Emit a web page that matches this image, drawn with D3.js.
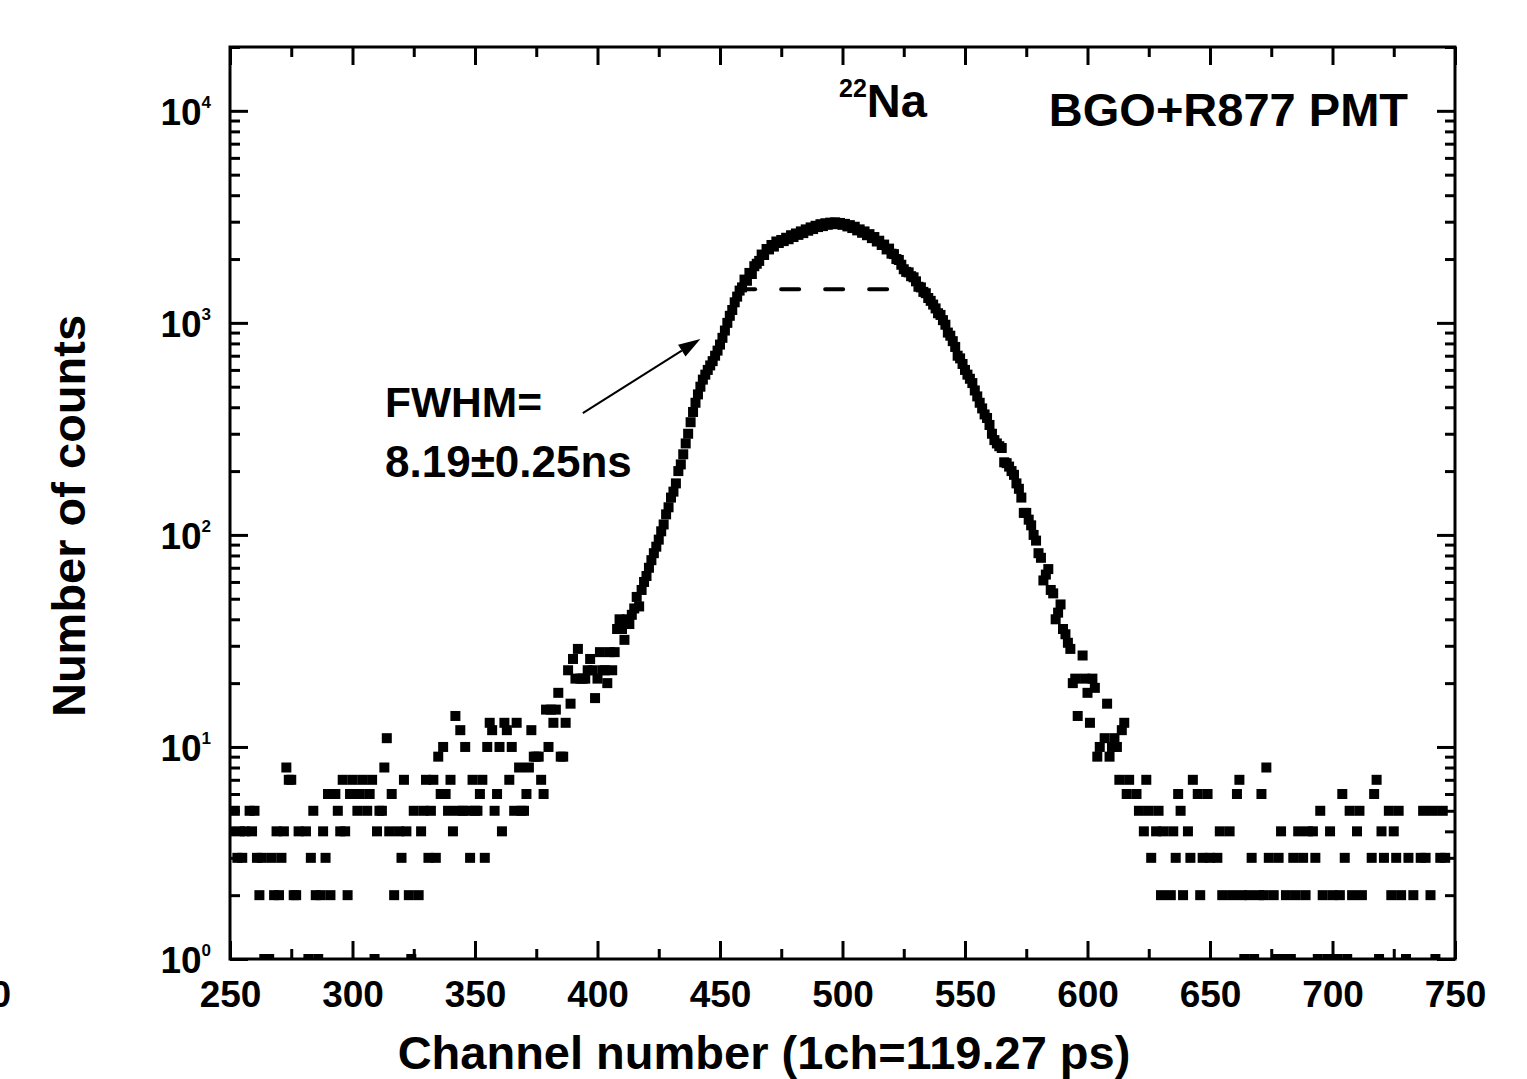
<!DOCTYPE html>
<html>
<head>
<meta charset="utf-8">
<script src="https://cdn.jsdelivr.net/npm/d3@7"></script>
<style>
  body { margin: 0; background: #fff; }
  svg text { font-family: "Liberation Sans", Arial, sans-serif; font-weight: bold; fill: #000; }
</style>
</head>
<body>
<svg id="chart" width="1527" height="1079"></svg>
<script>
// counts per channel (0 = no point drawn)
const firstChannel = 250;
// channels 250-379
const leftTailCounts = [
  4,0,5,3,4,3,4,0,5,4, 5,3,2,3,1,0,1,3,2,4, 2,3,4,8,7,7,2,2,4,0,
  0,4,1,3,5,2,1,2,4,3, 6,2,0,6,5,4,7,4,2,6, 7,0,5,6,7,0,5,6,7,1,
  4,5,5,8,11,4,6,2,0,4, 3,7,4,2,1,5,0,2,4,5, 7,3,5,7,3,9,6,10,6,5,
  7,4,14,5,12,5,10,5,3,7, 5,5,6,7,3,10,13,12,5,6, 10,4,13,12,7,10,5,13,8,5,
  5,6,8,12,9,9,9,7,6,15
];
// channels 380-617
const peakCounts = [
  10,15,13,15,18,9,9,13,23,16, 26,21,29,21,21,21,23,26,23,17,
  21,28,23,23,20,28,23,28,36,40, 36,32,40,38,42,45,51,46,55,60,
  64,70,76,82,88,95,104,112,125,135, 150,160,175,200,215,240,270,300,340,380,
  420,460,500,540,570,600,630,660,700,740, 790,850,920,1000,1080,1150,1250,1330,1420,1470,
  1600,1580,1720,1700,1850,1900,1960,2100,2090,2230, 2220,2330,2290,2420,2380,2460,2430,2520,2480,2590,
  2540,2640,2600,2700,2650,2760,2720,2820,2770,2870, 2830,2920,2860,2950,2900,2970,2930,2980,2920,2960,
  2900,2930,2850,2890,2800,2840,2730,2760,2660,2700, 2590,2620,2510,2540,2420,2440,2330,2340,2220,2240,
  2120,2110,2000,1980,1880,1790,1740,1730,1660,1640, 1570,1480,1470,1400,1380,1310,1270,1220,1170,1110,
  1090,1030,980,900,870,820,770,700,680,640, 600,570,545,520,480,450,420,395,370,356,
  330,300,280,270,262,257,220,218,210,200, 192,175,165,150,127,127,118,111,100,94,
  82,78,61,65,69,55,53,40,43,47, 36,34,31,29,20,21,14,0,27,21,
  18,13,21,19,9,10,0,11,16,9, 10,11,10,7,12,13,6,7
];
// channels 618-750
const rightTailCounts = [
  0,0,6,5,0,4,7,5,3,0, 4,5,2,4,0,0,2,4,3,6, 5,2,0,4,3,7,0,6,2,3,
  0,6,3,0,0,3,4,2,0,0, 4,2,0,6,7,2,1,0,2,3, 1,0,2,6,2,8,3,0,2,1,
  3,4,1,2,0,1,3,2,4,0, 3,2,4,0,4,3,1,5,2,0, 1,4,2,0,1,2,6,3,1,5,
  2,0,4,5,2,0,0,0,3,6, 7,1,4,3,0,5,2,4,3,5, 2,0,1,3,0,2,0,0,3,5,
  3,0,2,5,1,0,3,5,3,0, 0,0,0
];

const xTicks = [250, 300, 350, 400, 450, 500, 550, 600, 650, 700, 750];
const xMinorTicks = [275, 325, 375, 425, 475, 525, 575, 625, 675, 725];
const yDecades = [1, 10, 100, 1000, 10000];
const yExponents = ["0", "1", "2", "3", "4"];
const halfMaxLevel = 1440;
const halfMaxChannels = [457, 526];
const arrowFrom = [394, 375];
const arrowTo = [442, 840];

const svg = d3.select("#chart");
const plotLeft = 230, plotRight = 1455, plotTop = 47, plotBottom = 959;

const x = d3.scaleLinear().domain([250, 750]).range([plotLeft, plotRight]);
const y = d3.scaleLog().domain([1, 20000]).range([plotBottom, plotTop]);

const counts = leftTailCounts.concat(peakCounts, rightTailCounts);
const points = counts
    .map((c, i) => ({ ch: firstChannel + i, c: c }))
    .filter(d => d.c > 0);

svg.append("defs").append("clipPath")
    .attr("id", "plot-clip")
    .append("rect")
    .attr("x", plotLeft).attr("y", plotTop)
    .attr("width", plotRight - plotLeft).attr("height", plotBottom - plotTop);

// data squares
const sq = 10;
svg.append("g")
    .attr("clip-path", "url(#plot-clip)")
    .selectAll("rect")
    .data(points)
    .join("rect")
    .attr("x", d => x(d.ch) - sq / 2)
    .attr("y", d => y(d.c) - sq / 2)
    .attr("width", sq)
    .attr("height", sq)
    .attr("fill", "#000");

// half maximum dashed line
svg.append("line")
    .attr("x1", x(halfMaxChannels[0]))
    .attr("x2", x(halfMaxChannels[1]))
    .attr("y1", y(halfMaxLevel))
    .attr("y2", y(halfMaxLevel))
    .attr("stroke", "#000")
    .attr("stroke-width", 4)
    .attr("stroke-linecap", "round")
    .attr("stroke-dasharray", "18,26");

// axes (ticks point inward)
function styleAxis(g) {
    g.select(".domain").remove();
    g.selectAll(".tick line").attr("stroke", "#000").attr("stroke-width", 3);
}

svg.append("g")
    .attr("transform", `translate(0,${plotBottom})`)
    .call(d3.axisBottom(x).tickValues(xTicks).tickSizeInner(-18).tickSizeOuter(0).tickPadding(22))
    .call(styleAxis)
    .call(g => g.selectAll(".tick text").attr("font-size", 37).attr("fill", "#000")
        .style("font-family", "'Liberation Sans', Arial, sans-serif").style("font-weight", "bold"));

svg.append("g")
    .attr("transform", `translate(0,${plotBottom})`)
    .call(d3.axisBottom(x).tickValues(xMinorTicks).tickSizeInner(-10).tickSizeOuter(0).tickFormat(""))
    .call(styleAxis);

svg.append("g")
    .attr("transform", `translate(0,${plotTop})`)
    .call(d3.axisTop(x).tickValues(xTicks).tickSizeInner(-18).tickSizeOuter(0).tickFormat(""))
    .call(styleAxis);

svg.append("g")
    .attr("transform", `translate(0,${plotTop})`)
    .call(d3.axisTop(x).tickValues(xMinorTicks).tickSizeInner(-10).tickSizeOuter(0).tickFormat(""))
    .call(styleAxis);

const yMinor = y.ticks().filter(v => !yDecades.includes(v));

svg.append("g")
    .attr("transform", `translate(${plotLeft},0)`)
    .call(d3.axisLeft(y).tickValues(yDecades).tickSizeInner(-18).tickSizeOuter(0).tickFormat(""))
    .call(styleAxis);
svg.append("g")
    .attr("transform", `translate(${plotLeft},0)`)
    .call(d3.axisLeft(y).tickValues(yMinor).tickSizeInner(-10).tickSizeOuter(0).tickFormat(""))
    .call(styleAxis);
svg.append("g")
    .attr("transform", `translate(${plotRight},0)`)
    .call(d3.axisRight(y).tickValues(yDecades).tickSizeInner(-18).tickSizeOuter(0).tickFormat(""))
    .call(styleAxis);
svg.append("g")
    .attr("transform", `translate(${plotRight},0)`)
    .call(d3.axisRight(y).tickValues(yMinor).tickSizeInner(-10).tickSizeOuter(0).tickFormat(""))
    .call(styleAxis);

// y tick labels 10^n
const yLab = svg.append("g").selectAll("text")
    .data(yDecades)
    .join("text")
    .attr("x", 211)
    .attr("y", d => y(d) + 14)
    .attr("text-anchor", "end")
    .attr("font-size", 37);
yLab.append("tspan").text("10");
yLab.append("tspan").attr("font-size", 17).attr("dy", -17).text((d, i) => yExponents[i]);

// frame
svg.append("rect")
    .attr("x", plotLeft).attr("y", plotTop)
    .attr("width", plotRight - plotLeft).attr("height", plotBottom - plotTop)
    .attr("fill", "none")
    .attr("stroke", "#000")
    .attr("stroke-width", 3);

// cut-off label of neighbouring panel
svg.append("text")
    .attr("x", 11).attr("y", 1007)
    .attr("text-anchor", "end")
    .attr("font-size", 37)
    .text("750");

// axis titles
svg.append("text")
    .attr("x", 764).attr("y", 1069)
    .attr("text-anchor", "middle")
    .attr("font-size", 47)
    .text("Channel number (1ch=119.27 ps)");

svg.append("text")
    .attr("transform", "translate(85,516) rotate(-90)")
    .attr("text-anchor", "middle")
    .attr("font-size", 47)
    .text("Number of counts");

// labels
const na = svg.append("text")
    .attr("x", 839).attr("y", 117)
    .attr("font-size", 47);
na.append("tspan").attr("font-size", 25).attr("dy", -20).text("22");
na.append("tspan").attr("dy", 20).text("Na");

svg.append("text")
    .attr("x", 1408).attr("y", 126)
    .attr("text-anchor", "end")
    .attr("font-size", 47)
    .text("BGO+R877 PMT");

svg.append("text")
    .attr("x", 385).attr("y", 417)
    .attr("font-size", 42.5)
    .text("FWHM=");
svg.append("text")
    .attr("x", 385).attr("y", 477)
    .attr("font-size", 44)
    .text("8.19\u00b10.25ns");

// arrow
const ax0 = x(arrowFrom[0]), ay0 = y(arrowFrom[1]);
const ax1 = x(arrowTo[0]), ay1 = y(arrowTo[1]);
const ang = Math.atan2(ay1 - ay0, ax1 - ax0);
const headLen = 22, headW = 7;
const bx = ax1 - headLen * Math.cos(ang), by = ay1 - headLen * Math.sin(ang);
svg.append("line")
    .attr("x1", ax0).attr("y1", ay0)
    .attr("x2", bx).attr("y2", by)
    .attr("stroke", "#000")
    .attr("stroke-width", 2);
svg.append("path")
    .attr("d", `M${ax1},${ay1}L${bx + headW * Math.sin(ang)},${by - headW * Math.cos(ang)}L${bx - headW * Math.sin(ang)},${by + headW * Math.cos(ang)}Z`)
    .attr("fill", "#000");
</script>
</body>
</html>
